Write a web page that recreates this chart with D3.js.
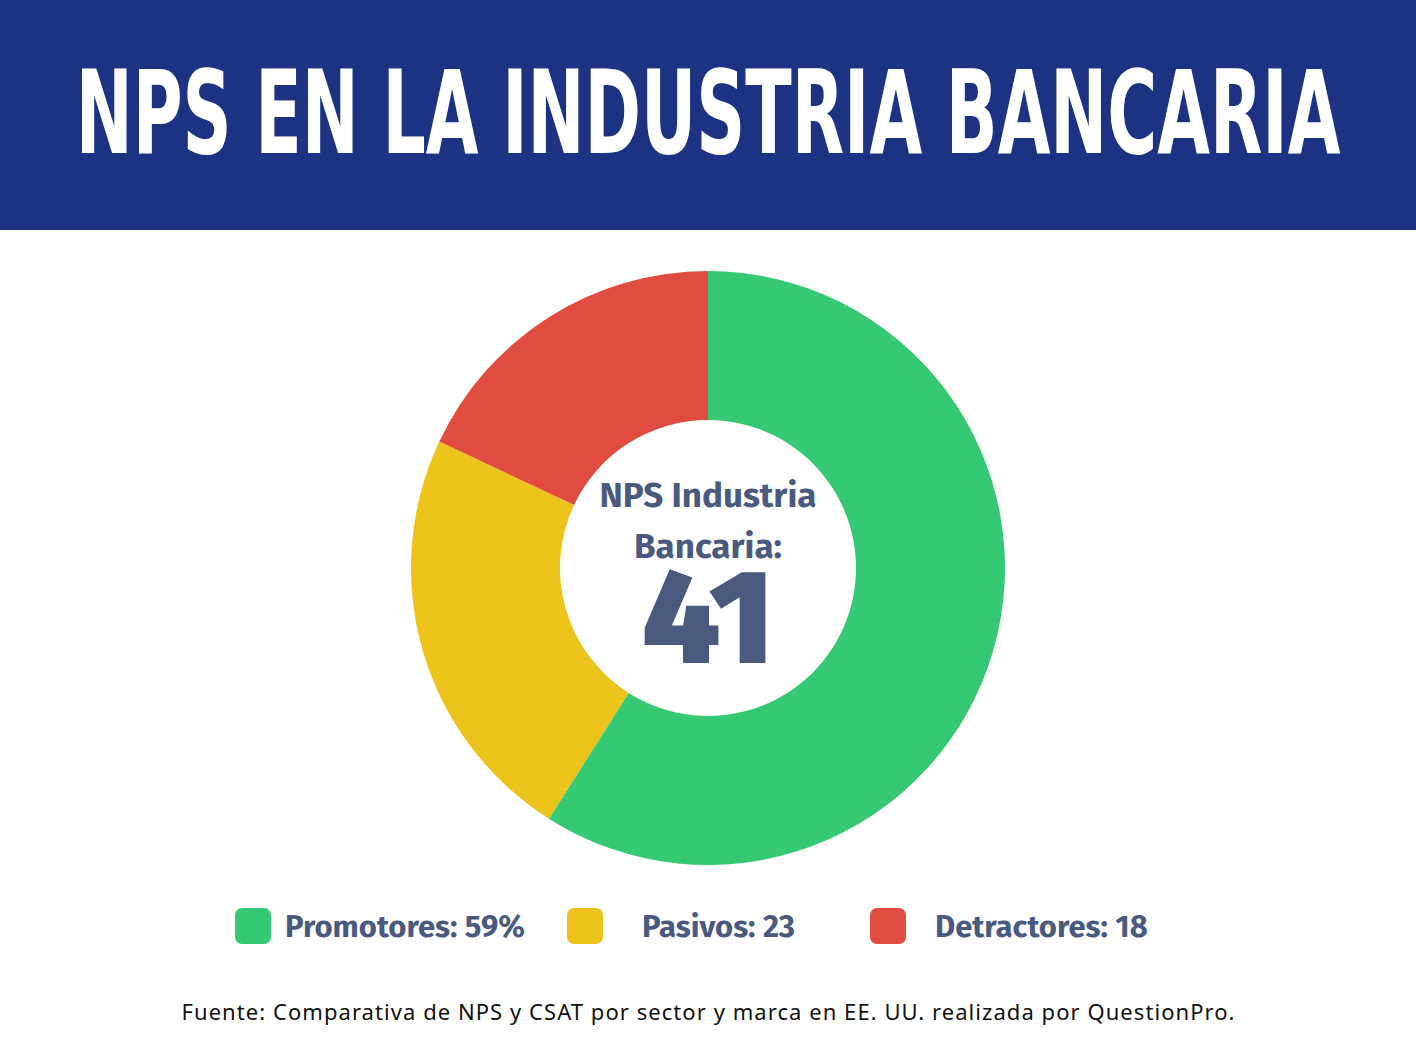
<!DOCTYPE html>
<html><head><meta charset="utf-8">
<script src="https://cdn.jsdelivr.net/npm/d3@7"></script>
<style>body{margin:0;background:#fff}</style></head>
<body><svg id="c" width="1416" height="1051"></svg>
<script>
const categories = ["Promotores", "Pasivos", "Detractores"];
const values = [59, 23, 18];
const legendLabels = ["Promotores: 59%", "Pasivos: 23", "Detractores: 18"];
const colors = ["#34c972", "#ecc31a", "#e04c40"];
const npsValue = 41;

const svg = d3.select("#c");
svg.append("rect").attr("width",1416).attr("height",230).attr("fill","#1c3282");
const t = svg.append("text").attr("x",708).attr("y",153).attr("text-anchor","middle")
  .attr("fill","#fff").attr("font-family","'Liberation Sans Narrow','DejaVu Sans Condensed',sans-serif")
  .attr("font-weight","bold").attr("font-size",116).text("NPS EN LA INDUSTRIA BANCARIA");
const bb = t.node().getBBox();
const sx = 1265/bb.width;
t.attr("transform",`translate(708,0) scale(${sx},1) translate(-708,0)`);

const pie = d3.pie().sort(null).value(d=>d);
const arc = d3.arc().innerRadius(148).outerRadius(297);
const g = svg.append("g").attr("transform","translate(708,568)");
g.selectAll("path").data(pie(values)).join("path").attr("d",arc).attr("fill",(d,i)=>colors[i]);

const tc = "#4a5a7e", ff = "'Fira Sans','Open Sans',Roboto,sans-serif";
g.append("text").attr("y",-61).attr("text-anchor","middle").attr("fill",tc).attr("font-family",ff)
 .attr("font-weight","bold").attr("font-size",35).text("NPS Industria");
g.append("text").attr("y",-10).attr("text-anchor","middle").attr("fill",tc).attr("font-family",ff)
 .attr("font-weight","bold").attr("font-size",35).text("Bancaria:");
g.append("text").attr("y",95).attr("text-anchor","middle").attr("fill",tc).attr("font-family",ff)
 .attr("font-weight","900").attr("font-size",134).text(npsValue);

const lx = [235, 567, 870], tx = [285, 642, 935];
categories.forEach((c,i)=>{
  svg.append("rect").attr("x",lx[i]).attr("y",908).attr("width",36).attr("height",36).attr("rx",7).attr("fill",colors[i]);
  svg.append("text").attr("x",tx[i]).attr("y",937).attr("fill",tc).attr("font-family",ff)
    .attr("font-weight","bold").attr("font-size",31).text(legendLabels[i]);
});
svg.append("text").attr("x",708).attr("y",1020).attr("text-anchor","middle").attr("fill","#111")
  .attr("font-family","'Noto Sans',sans-serif").attr("font-size",22)
  .attr("textLength",1053).attr("lengthAdjust","spacing")
  .text("Fuente: Comparativa de NPS y CSAT por sector y marca en EE. UU. realizada por QuestionPro.");
</script></body></html>
